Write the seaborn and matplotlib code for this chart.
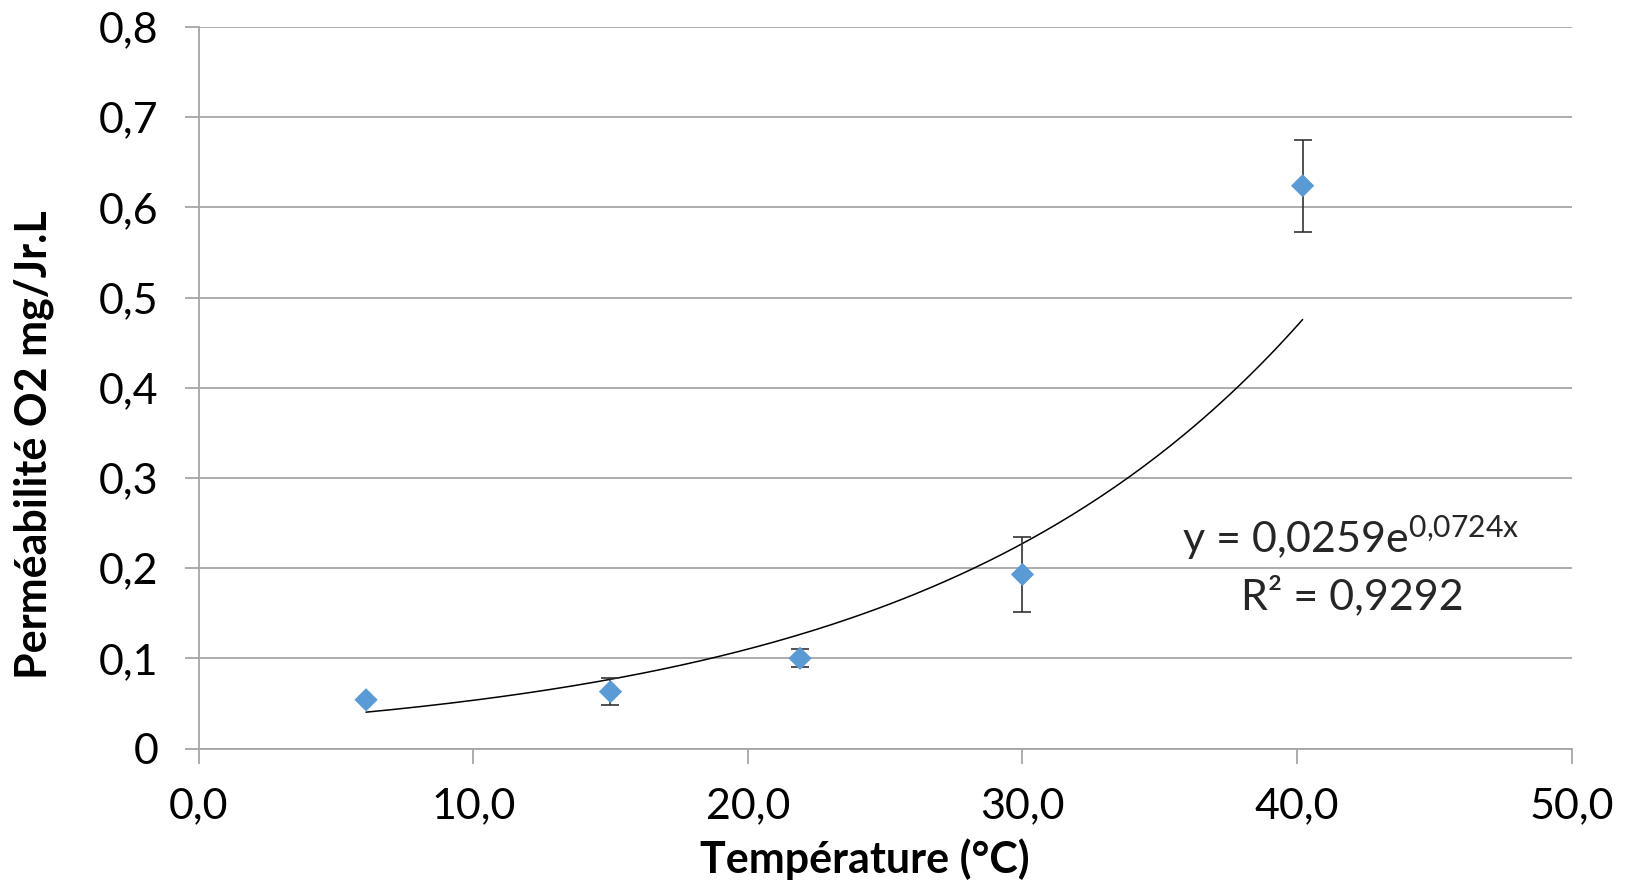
import numpy as np
import pandas as pd
import matplotlib
matplotlib.use("Agg")
import matplotlib.pyplot as plt
import seaborn as sns

# Data
temperature = [6.1, 15.0, 21.9, 30.0, 40.2]
permeability = [0.054, 0.063, 0.100, 0.193, 0.624]
error = [0.0, 0.015, 0.010, 0.042, 0.051]
fit_a = 0.0259
fit_b = 0.0724
equation_text = r"y = 0,0259e$\mathregular{^{0{,}0724x}}$"
r2_text = "R² = 0,9292"
x_ticks = [0, 10, 20, 30, 40, 50]
y_ticks = [0, 0.1, 0.2, 0.3, 0.4, 0.5, 0.6, 0.7, 0.8]

sns.set_theme(style="white")
plt.rcParams['font.family'] = ['Lato', 'DejaVu Sans']
plt.rcParams['mathtext.fontset'] = 'custom'
plt.rcParams['mathtext.rm'] = 'Lato'

W, H = 1630, 882
fig = plt.figure(figsize=(W / 100, H / 100), dpi=100)
L, R, T, B = 198.5, 1571.8, 27.0, 748.5
ax = fig.add_axes([L / W, 1 - B / H, (R - L) / W, (B - T) / H])

df = pd.DataFrame({"T": temperature, "P": permeability, "err": error})

# trend line
xs = np.linspace(min(temperature), max(temperature), 200)
trend = pd.DataFrame({"T": xs, "P": fit_a * np.exp(fit_b * xs)})
sns.lineplot(data=trend, x="T", y="P", ax=ax, color="black", linewidth=1.1, zorder=3)

# error bars
err_mask = df["err"] > 0
ax.errorbar(df["T"][err_mask], df["P"][err_mask], yerr=df["err"][err_mask], fmt="none",
            ecolor="#333333", elinewidth=1.2, capsize=6.5, capthick=1.2, zorder=4)

sns.scatterplot(data=df, x="T", y="P", ax=ax, marker="D", s=140, color="#5B9BD5",
                edgecolor="none", zorder=5)

ax.set_xlim(0, 50)
ax.set_ylim(0, 0.8)
ax.set_xticks(x_ticks)
ax.set_yticks(y_ticks)
ax.set_xticklabels([f"{v:.1f}".replace(".", ",") for v in x_ticks])
ax.set_yticklabels(["0" if v == 0 else f"{v:.1f}".replace(".", ",") for v in y_ticks])

ax.grid(axis="y", color="#A6A6A6", linewidth=1.3)
ax.grid(axis="x", visible=False)
for s in ["top", "right"]:
    ax.spines[s].set_visible(False)
for s in ["left", "bottom"]:
    ax.spines[s].set_color("#A6A6A6")
    ax.spines[s].set_linewidth(1.3)

ax.tick_params(axis="y", direction="out", length=10, width=1.3, color="#A6A6A6",
               labelsize=31, pad=19, left=True)
ax.tick_params(axis="x", direction="out", length=11, width=1.3, color="#A6A6A6",
               labelsize=31, pad=17, bottom=True)
for lbl in ax.get_xticklabels() + ax.get_yticklabels():
    lbl.set_color("black")

ax.set_xlabel("Température (°C)", fontsize=31, fontweight="bold", color="black")
ax.set_ylabel("Perméabilité O2 mg/Jr.L", fontsize=31, fontweight="bold", color="black")
ax.xaxis.label.set_verticalalignment("center")
ax.yaxis.label.set_verticalalignment("center")
ax.xaxis.set_label_coords((865 - L) / (R - L), (B - 859) / (B - T))
ax.yaxis.set_label_coords((34 - L) / (R - L), (B - 445) / (B - T))

fig.text(1351 / W, 1 - 538 / H, equation_text, fontsize=31, ha="center", va="center")
fig.text(1352 / W, 1 - 596 / H, r2_text, fontsize=31, ha="center", va="center")

fig.savefig("out.png", dpi=100, facecolor="white")
